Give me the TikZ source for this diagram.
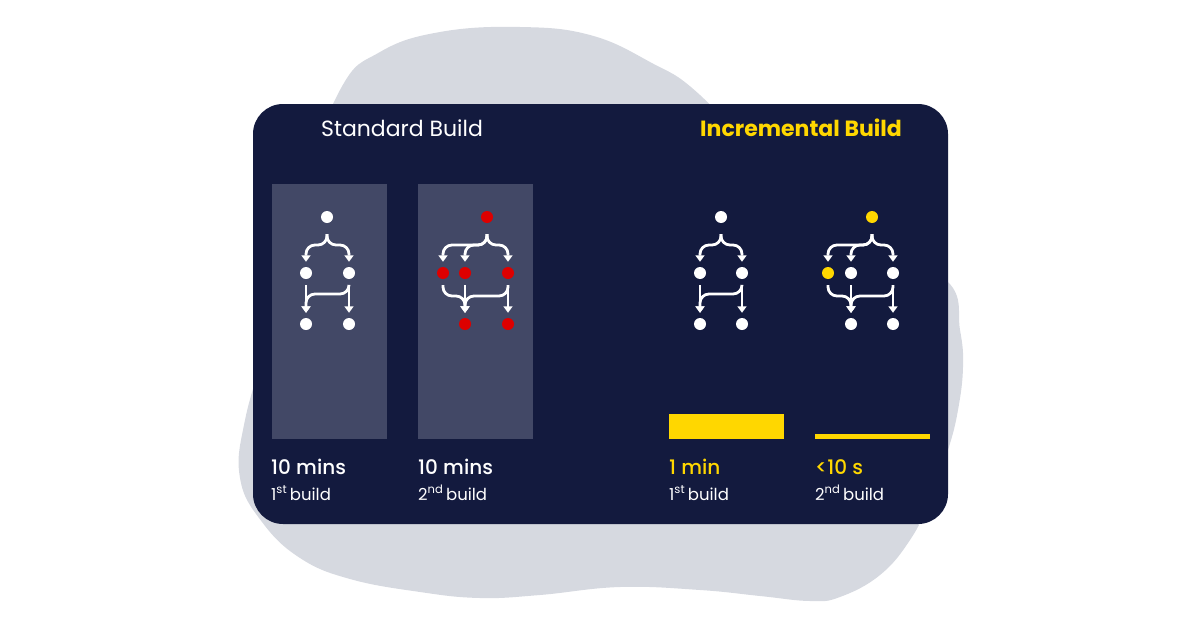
\documentclass[tikz,border=0pt]{standalone}
\usepackage{fontspec}
\setmainfont{Poppins}
\newfontfamily\medfont{Poppins Medium}
\usetikzlibrary{arrows.meta}

\definecolor{navy}{HTML}{131A3E}
\definecolor{slab}{HTML}{424866}
\definecolor{blob}{HTML}{D6D9E0}
\definecolor{gold}{HTML}{FFD700}
\definecolor{alert}{HTML}{DD0000}

\begin{document}
\begin{tikzpicture}[x=1pt,y=-1pt,
    dot/.style={circle,fill=white,inner sep=0pt,minimum size=12pt},
    flow/.style={draw=white,line width=2.8pt,rounded corners=9pt,
      -{Triangle[length=6.5pt,width=9pt]},shorten >=5pt},
    title/.style={text=white,font=\fontsize{22}{26}\selectfont},
    took/.style={anchor=base west,inner sep=0pt,text=white,
      font=\medfont\fontsize{20}{24}\selectfont},
    run/.style={anchor=base west,inner sep=0pt,text=white,
      font=\fontsize{16.5}{20}\selectfont}]
    \useasboundingbox (0,0) rectangle (1201,629);
    % backdrop
    \fill[blob] plot[smooth cycle,tension=0.7] coordinates {
      (440,32) (520,27) (590,35) (650,62) (700,95) (780,180) (880,250)
      (948,282) (960,330) (963,367) (958,410) (948,450) (930,500) (910,540)
      (880,575) (840,597) (810,601) (760,596) (700,590) (620,587) (540,595)
      (480,598) (420,592) (350,579) (300,558) (262,522) (240,478) (245,420)
      (270,330) (300,200) (340,90) (380,52)};
    \fill[navy,rounded corners=30pt] (253,104) rectangle (948,524);
    \node[title] (std) at (402,128) {Standard Build};
    \node[title,text=gold,font=\bfseries\fontsize{22}{26}\selectfont] (inc) at (801,128) {Incremental Build};
    \fill[slab] (272,184) rectangle (387,439);
    \fill[slab] (418,184) rectangle (533,439);
    \fill[gold] (669,414) rectangle (784,439);
    \fill[gold] (815,434) rectangle (930,439);
    % standard, 1st build
    \begin{scope}[shift={(327,217)}]
      \node[dot] (t) at (0,0) {};
      \node[dot] (m1) at (-21,56) {};
      \node[dot] (m2) at (22,56) {};
      \node[dot] (b1) at (-21,107) {};
      \node[dot] (b2) at (22,107) {};
      \draw[flow] ([yshift=-11pt]t.south) |- (m1 |- 0,28) -- (m1.north);
      \draw[flow] ([yshift=-11pt]t.south) |- (m2 |- 0,28) -- (m2.north);
      \draw[flow] ([yshift=-6pt]m1.south) -- (b1.north);
      \draw[flow] ([yshift=-6pt]m2.south) -- (b2.north);
      \draw[flow] ([yshift=-6pt]m2.south) |- (b1 |- 0,77) -- (b1.north);
    \end{scope}
    % standard, 2nd build
    \begin{scope}[shift={(487,217)}]
      \node[dot,fill=alert] (t) at (0,0) {};
      \node[dot,fill=alert] (m1) at (-44,56) {};
      \node[dot,fill=alert] (m2) at (-22,56) {};
      \node[dot,fill=alert] (m3) at (21,56) {};
      \node[dot,fill=alert] (b1) at (-22,107) {};
      \node[dot,fill=alert] (b2) at (21,107) {};
      \draw[flow] ([yshift=-11pt]t.south) |- (m1 |- 0,28) -- (m1.north);
      \draw[flow] ([yshift=-11pt]t.south) |- (m2 |- 0,28) -- (m2.north);
      \draw[flow] ([yshift=-11pt]t.south) |- (m3 |- 0,28) -- (m3.north);
      \draw[flow] ([yshift=-6pt]m1.south) |- (b1 |- 0,79) -- (b1.north);
      \draw[flow] ([yshift=-6pt]m2.south) -- (b1.north);
      \draw[flow] ([yshift=-6pt]m3.south) -- (b2.north);
      \draw[flow] ([yshift=-6pt]m3.south) |- (b1 |- 0,79) -- (b1.north);
    \end{scope}
    % incremental, 1st build
    \begin{scope}[shift={(721,217)}]
      \node[dot] (t) at (0,0) {};
      \node[dot] (m1) at (-21,56) {};
      \node[dot] (m2) at (21,56) {};
      \node[dot] (b1) at (-21,107) {};
      \node[dot] (b2) at (21,107) {};
      \draw[flow] ([yshift=-11pt]t.south) |- (m1 |- 0,28) -- (m1.north);
      \draw[flow] ([yshift=-11pt]t.south) |- (m2 |- 0,28) -- (m2.north);
      \draw[flow] ([yshift=-6pt]m1.south) -- (b1.north);
      \draw[flow] ([yshift=-6pt]m2.south) -- (b2.north);
      \draw[flow] ([yshift=-6pt]m2.south) |- (b1 |- 0,77) -- (b1.north);
    \end{scope}
    % incremental, 2nd build
    \begin{scope}[shift={(872,217)}]
      \node[dot,fill=gold] (t) at (0,0) {};
      \node[dot,fill=gold] (m1) at (-44,56) {};
      \node[dot] (m2) at (-21,56) {};
      \node[dot] (m3) at (21,56) {};
      \node[dot] (b1) at (-21,107) {};
      \node[dot] (b2) at (21,107) {};
      \draw[flow] ([yshift=-11pt]t.south) |- (m1 |- 0,28) -- (m1.north);
      \draw[flow] ([yshift=-11pt]t.south) |- (m2 |- 0,28) -- (m2.north);
      \draw[flow] ([yshift=-11pt]t.south) |- (m3 |- 0,28) -- (m3.north);
      \draw[flow] ([yshift=-6pt]m1.south) |- (b1 |- 0,79) -- (b1.north);
      \draw[flow] ([yshift=-6pt]m2.south) -- (b1.north);
      \draw[flow] ([yshift=-6pt]m3.south) -- (b2.north);
      \draw[flow] ([yshift=-6pt]m3.south) |- (b1 |- 0,79) -- (b1.north);
    \end{scope}
    % timings
    \node[took] (d1) at (271,474) {10 mins};
    \node[run] (n1) at (271,500) {1\textsuperscript{st}\,build};
    \node[took] (d2) at (418,474) {10 mins};
    \node[run] (n2) at (418,500) {2\textsuperscript{nd}\,build};
    \node[took,text=gold] (d3) at (669,474) {1 min};
    \node[run] (n3) at (669,500) {1\textsuperscript{st}\,build};
    \node[took,text=gold] (d4) at (815,474) {<10 s};
    \node[run] (n4) at (815,500) {2\textsuperscript{nd}\,build};
\end{tikzpicture}
\end{document}
